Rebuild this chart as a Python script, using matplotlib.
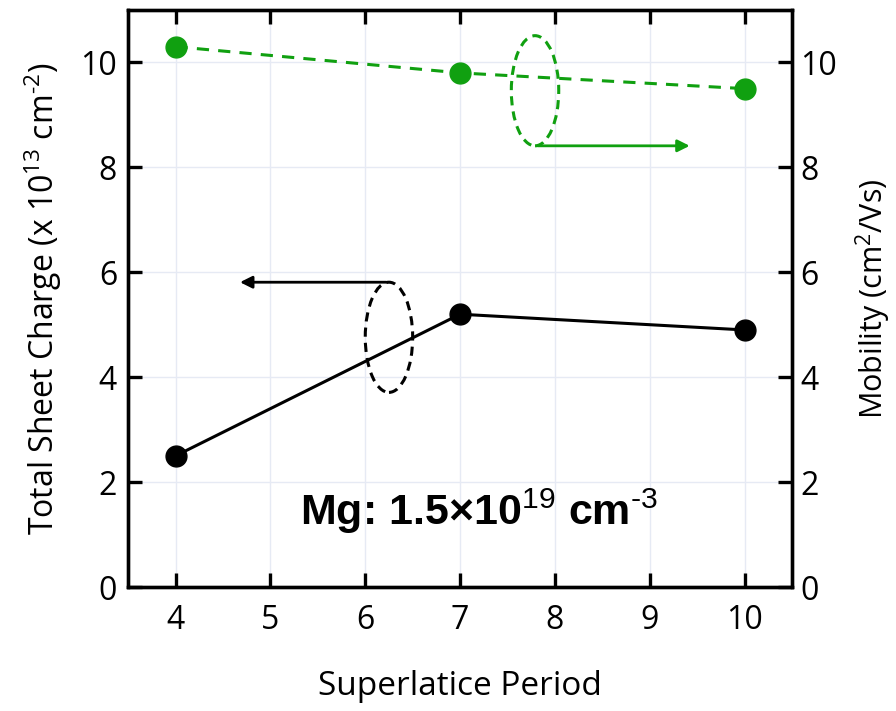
import matplotlib
matplotlib.use("Agg")
import matplotlib.pyplot as plt
from matplotlib.patches import Ellipse

plt.rcParams["font.family"] = ["Open Sans", "DejaVu Sans"]
plt.rcParams["mathtext.fontset"] = "custom"
plt.rcParams["mathtext.rm"] = "Open Sans"
plt.rcParams["mathtext.sf"] = "Liberation Sans"

periods = [4, 7, 10]
sheet_charge = [2.5, 5.2, 4.9]     # x 10^13 cm^-2
mobility = [10.3, 9.8, 9.5]        # cm^2/Vs

GREEN = "#10a010"

fig = plt.figure(figsize=(8.96, 7.11), dpi=100)
ax = fig.add_axes([0.143, 0.1744, 0.741, 0.8116])
ax2 = ax.twinx()

ax.plot(periods, sheet_charge, color="black", lw=2.2, marker="o", ms=15, zorder=3)
ax2.plot(periods, mobility, color=GREEN, lw=2.2, ls=(0, (4, 3)), marker="o", ms=15, zorder=3)

for a in (ax, ax2):
    a.set_xlim(3.5, 10.5)
    a.set_ylim(0, 11)
    a.set_yticks(range(0, 11, 2))
    for s in a.spines.values():
        s.set_linewidth(2.4)
ax.set_xticks(range(4, 11))
ax.grid(True, color="#e6eaf4", lw=1)
ax.set_axisbelow(True)

ax.tick_params(axis="both", direction="in", length=10, width=2.4, labelsize=23,
               top=True, pad=8)
ax2.tick_params(axis="y", direction="in", length=10, width=2.4, labelsize=23, pad=6)
ax.tick_params(axis="x", pad=12)

ax.set_xlabel("Superlatice Period", fontsize=24, labelpad=24)
ax.set_ylabel("Total Sheet Charge (x 10$^{13}$ cm$^{‐2}$)", fontsize=23, labelpad=12)
ax2.set_ylabel(r"Mobility (cm$^{2}$/Vs)", fontsize=22, labelpad=12)

# ellipses marking which curve belongs to which axis
ax.add_patch(Ellipse((6.25, 4.76), 0.5, 2.1, fill=False, ec="black", lw=2.2, ls=(0, (3, 2))))
ax.annotate("", xy=(4.65, 5.81), xytext=(6.25, 5.81),
            arrowprops=dict(arrowstyle="-|>", color="black", lw=2, mutation_scale=18))
ax2.add_patch(Ellipse((7.79, 9.46), 0.5, 2.1, fill=False, ec=GREEN, lw=2.2, ls=(0, (3, 2))))
ax2.annotate("", xy=(9.45, 8.41), xytext=(7.79, 8.41),
             arrowprops=dict(arrowstyle="-|>", color=GREEN, lw=2, mutation_scale=18))

ax.text(7.2, 1.45, "Mg: 1.5×10$^{\\mathsf{19}}$ cm$^{\\mathsf{‐3}}$", fontsize=31,
        fontweight="bold", family=["Liberation Sans", "DejaVu Sans"],
        ha="center", va="center")

fig.savefig("out.png", dpi=100)
